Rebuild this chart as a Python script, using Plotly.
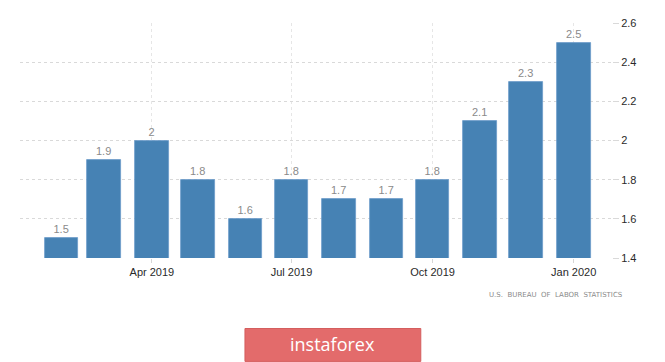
import plotly.graph_objects as go

months = ["2019-02-01", "2019-03-01", "2019-04-01", "2019-05-01", "2019-06-01", "2019-07-01",
          "2019-08-01", "2019-09-01", "2019-10-01", "2019-11-01", "2019-12-01", "2020-01-01"]
values = [1.5, 1.9, 2.0, 1.8, 1.6, 1.8, 1.7, 1.7, 1.8, 2.1, 2.3, 2.5]
x_tick_vals = ["2019-04-01", "2019-07-01", "2019-10-01", "2020-01-01"]
x_tick_text = ["Apr 2019", "Jul 2019", "Oct 2019", "Jan 2020"]
y_tick_vals = [1.4, 1.6, 1.8, 2.0, 2.2, 2.4, 2.6]
y_tick_text = ["1.4", "1.6", "1.8", "2", "2.2", "2.4", "2.6"]
source_text = "U.S.  BUREAU  OF  LABOR  STATISTICS"
logo_text = "instaforex"

DAY_MS = 86400000

fig = go.Figure()
fig.add_trace(go.Bar(
    x=months, y=values,
    width=[22 * DAY_MS] * len(values),
    marker=dict(color="#4682b4", line=dict(width=0.8, color="#6b9bc9")),
    text=[("%g" % v) for v in values],
    textposition="outside",
    textfont=dict(color="#8a8a8a", size=11, family="Liberation Sans"),
    cliponaxis=False,
))

fig.update_layout(
    width=657, height=354,
    margin=dict(l=12, r=53, t=9, b=104),
    plot_bgcolor="white", paper_bgcolor="white",
    showlegend=False,
    bargap=0,
    font=dict(family="Liberation Sans", size=11, color="#333333"),
    xaxis=dict(
        type="date",
        range=["2019-01-05", "2020-01-26"],
        tickvals=x_tick_vals, ticktext=x_tick_text,
        showgrid=True, gridcolor="#e6e6e6", griddash="dot", gridwidth=1,
        ticks="outside", ticklen=4, tickcolor="#d6d6d6",
        showline=False, zeroline=False,
        tickfont=dict(size=11, color="#2a2a2a"),
    ),
    yaxis=dict(
        side="right",
        range=[1.4, 2.6],
        tickvals=y_tick_vals, ticktext=y_tick_text,
        showgrid=True, gridcolor="#d9d9d9", griddash="dot", gridwidth=1,
        ticks="outside", ticklen=6, tickcolor="#d9d9d9",
        showline=False, zeroline=False,
        tickfont=dict(size=11, color="#2a2a2a"),
    ),
)

# source text
fig.add_annotation(
    text=source_text, xref="paper", yref="paper",
    x=1.022, y=-0.158, xanchor="right", yanchor="middle",
    showarrow=False, font=dict(size=7, color="#8a8a8a", family="DejaVu Sans"),
)

# logo box
fig.add_shape(
    type="rect", xref="paper", yref="paper",
    x0=0.38, x1=0.677, y0=-0.44, y1=-0.3,
    fillcolor="#e36b6b", line=dict(color="#d45e5e", width=1), layer="above",
)
fig.add_annotation(
    text=logo_text, xref="paper", yref="paper",
    x=0.528, y=-0.366, xanchor="center", yanchor="middle",
    showarrow=False, font=dict(size=18, color="white", family="Open Sans"),
)

fig.write_html("out.html")
